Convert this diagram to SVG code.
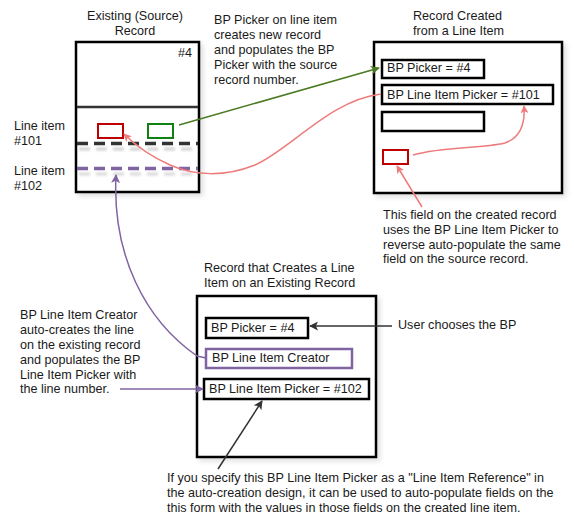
<svg xmlns="http://www.w3.org/2000/svg" width="574" height="520" viewBox="0 0 574 520">
<style>
text{font-family:"Liberation Sans",Arial,sans-serif;font-size:12.6px;fill:#1a1a1a}
.box{fill:#fff;stroke:#000;stroke-width:2.5}
.fld{fill:#fff;stroke:#000;stroke-width:2.5}
.red{fill:none;stroke:#c00000;stroke-width:2}
.grn{fill:none;stroke:#108010;stroke-width:2}
.pur{fill:#fff;stroke:#8064a2;stroke-width:2.5}
.pink{fill:none;stroke:#ee7b7b;stroke-width:1.5}
.blk{fill:none;stroke:#333;stroke-width:1.5}
.dash{stroke-width:3.5;stroke-dasharray:11 6}
</style>
<defs>
<filter id="sh" x="-10%" y="-10%" width="130%" height="130%">
<feDropShadow dx="3" dy="3" stdDeviation="2.5" flood-color="#000" flood-opacity="0.12"/>
</filter>
<filter id="blur" filterUnits="userSpaceOnUse" x="0" y="0" width="574" height="520">
<feGaussianBlur stdDeviation="1"/>
</filter>
<marker id="aPink" viewBox="0 0 10 10" refX="9" refY="5" markerWidth="8" markerHeight="8" markerUnits="userSpaceOnUse" orient="auto"><path d="M0,0 L10,5 L0,10 L2.5,5 z" fill="#ee7b7b"/></marker>
<marker id="aGrn" viewBox="0 0 10 10" refX="9" refY="5" markerWidth="9" markerHeight="9" markerUnits="userSpaceOnUse" orient="auto"><path d="M0,0 L10,5 L0,10 L2.5,5 z" fill="#4a7a22"/></marker>
<marker id="aPur" viewBox="0 0 10 10" refX="9" refY="5" markerWidth="9" markerHeight="9" markerUnits="userSpaceOnUse" orient="auto"><path d="M0,0 L10,5 L0,10 L2.5,5 z" fill="#8064a2"/></marker>
<marker id="aBlk" viewBox="0 0 10 10" refX="9" refY="5" markerWidth="9" markerHeight="9" markerUnits="userSpaceOnUse" orient="auto"><path d="M0,0 L10,5 L0,10 L2.5,5 z" fill="#333"/></marker>
</defs>
<rect width="574" height="520" fill="#fff"/>

<g id="existing-record">
<text x="135" y="20" text-anchor="middle">Existing (Source)</text>
<text x="135" y="35" text-anchor="middle">Record</text>
<rect class="box" x="76" y="42" width="123" height="150" filter="url(#sh)"/>
<text x="178" y="57">#4</text>
<line x1="77" y1="107" x2="198" y2="107" stroke="#333" stroke-width="2.5"/>
<line class="dash" x1="79" y1="149" x2="198" y2="149" stroke="#d8d8d8" filter="url(#blur)"/>
<line class="dash" x1="79" y1="174" x2="198" y2="174" stroke="#dedede" filter="url(#blur)"/>
<line class="dash" x1="77" y1="143.5" x2="198" y2="143.5" stroke="#333"/>
<line class="dash" x1="77" y1="168.5" x2="198" y2="168.5" stroke="#8064a2"/>
<rect class="red" x="98" y="124" width="25" height="14"/>
<rect class="grn" x="148" y="124" width="25" height="14"/>
</g>

<g id="line-labels">
<text x="14" y="130">Line item</text>
<text x="14" y="145">#101</text>
<text x="14" y="175">Line item</text>
<text x="14" y="190">#102</text>
</g>

<g id="note-top">
<text x="214" y="24">BP Picker on line item</text>
<text x="214" y="39">creates new record</text>
<text x="214" y="54">and populates the BP</text>
<text x="214" y="69">Picker with the source</text>
<text x="214" y="84">record number.</text>
</g>

<g id="created-record">
<text x="413" y="20">Record Created</text>
<text x="413" y="35">from a Line Item</text>
<rect class="box" x="374" y="42" width="188" height="151" filter="url(#sh)"/>
<rect class="fld" x="382" y="60" width="102" height="18"/>
<text x="387" y="72">BP Picker = #4</text>
<rect class="fld" x="382" y="85" width="171" height="19"/>
<text x="387" y="99">BP Line Item Picker = #101</text>
<rect class="fld" x="382" y="112" width="102" height="19"/>
<rect class="red" x="383" y="150" width="25" height="14"/>
</g>

<g id="note-right">
<text x="383" y="219">This field on the created record</text>
<text x="383" y="234">uses the BP Line Item Picker to</text>
<text x="383" y="249">reverse auto-populate the same</text>
<text x="383" y="263">field on the source record.</text>
</g>

<g id="creating-record">
<text x="204" y="272">Record that Creates a Line</text>
<text x="204" y="287">Item on an Existing Record</text>
<rect class="box" x="197" y="296" width="179" height="161" filter="url(#sh)"/>
<rect class="fld" x="206" y="318" width="102" height="20"/>
<text x="211" y="332">BP Picker = #4</text>
<rect class="pur" x="206" y="349" width="146" height="19"/>
<text x="212" y="362">BP Line Item Creator</text>
<rect class="fld" x="204" y="379" width="165" height="20"/>
<text x="209" y="393">BP Line Item Picker = #102</text>
</g>

<g id="note-left">
<text x="20" y="319">BP Line Item Creator</text>
<text x="20" y="334">auto-creates the line</text>
<text x="20" y="349">on the existing record</text>
<text x="20" y="364">and populates the BP</text>
<text x="20" y="379">Line Item Picker with</text>
<text x="20" y="393">the line number.</text>
</g>

<g id="note-user">
<text x="398" y="329">User chooses the BP</text>
</g>

<g id="note-bottom">
<text x="167" y="482">If you specify this BP Line Item Picker as a "Line Item Reference" in</text>
<text x="167" y="497">the auto-creation design, it can be used to auto-populate fields on the</text>
<text x="167" y="512">this form with the values in those fields on the created line item.</text>
</g>

<g id="connectors">
<line x1="179" y1="125" x2="379" y2="68" stroke="#4a7a22" stroke-width="1.5" marker-end="url(#aGrn)"/>
<path class="pink" d="M381,94 C330,100 290,150 255,165 C225,177 195,176 170,165 C150,156 135,145 124,134" marker-end="url(#aPink)"/>
<path class="pink" d="M413,155 C445,146 480,149 505,143 C522,137 525,120 524,106" marker-end="url(#aPink)"/>
<line class="pink" x1="422" y1="207" x2="397" y2="166" marker-end="url(#aPink)"/>
<path fill="none" stroke="#8064a2" stroke-width="1.5" d="M206,358 L197,356 C145,320 112,255 116,175" marker-end="url(#aPur)"/>
<line x1="120" y1="389" x2="203" y2="389" stroke="#8064a2" stroke-width="1.5" marker-end="url(#aPur)"/>
<line class="blk" x1="392" y1="326" x2="310" y2="326" marker-end="url(#aBlk)"/>
<line class="blk" x1="218" y1="469" x2="262" y2="401" marker-end="url(#aBlk)"/>
</g>
</svg>
